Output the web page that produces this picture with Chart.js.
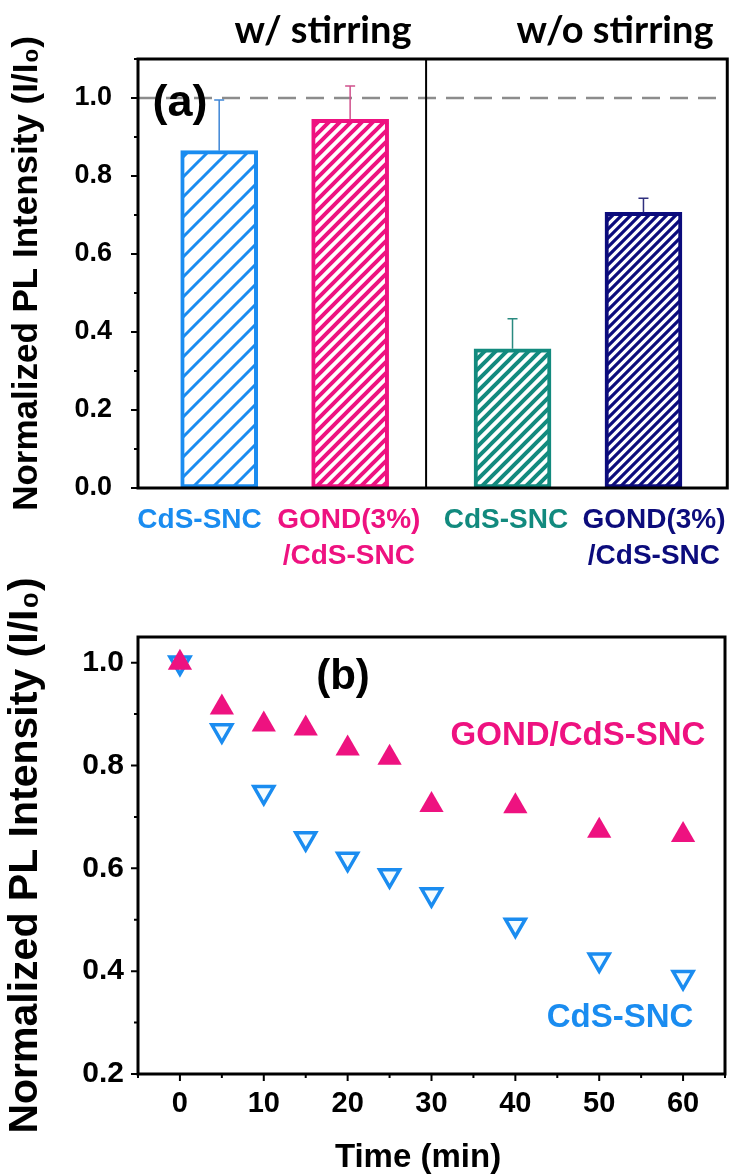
<!DOCTYPE html>
<html>
<head>
<meta charset="utf-8">
<script src="https://cdn.jsdelivr.net/npm/chart.js@4.4.1/dist/chart.umd.min.js"></script>
<style>
  body { margin: 0; background: #fff; }
  canvas { position: absolute; left: 0; }
  #panelA { top: 0; }
  #panelB { top: 560px; }
</style>
</head>
<body>
<canvas id="panelA" width="740" height="600"></canvas>
<canvas id="panelB" width="740" height="615"></canvas>
<script>
// (a) PL kept after the test, with and without stirring
const groupLabels = ['w/ stirring', 'w/o stirring'];
const sampleLabels = [['CdS-SNC'], ['GOND(3%)', '/CdS-SNC'], ['CdS-SNC'], ['GOND(3%)', '/CdS-SNC']];
const plRatio = [0.865, 0.945, 0.357, 0.707];
const plErrorUp = [0.13, 0.086, 0.077, 0.036];
const yTicksA = [0, 0.2, 0.4, 0.6, 0.8, 1.0];
const yMinorA = [0.1, 0.3, 0.5, 0.7, 0.9, 1.1];

// (b) PL decay with time
const seriesNames = ['GOND/CdS-SNC', 'CdS-SNC'];
const timeMin = [0, 5, 10, 15, 20, 25, 30, 40, 50, 60];
const plGond = [1.0, 0.913, 0.88, 0.872, 0.833, 0.815, 0.723, 0.721, 0.673, 0.665];
const plCds = [1.0, 0.868, 0.748, 0.658, 0.618, 0.586, 0.549, 0.49, 0.422, 0.388];
const timeTicks = [0, 10, 20, 30, 40, 50, 60];
const timeMinor = [-5, 5, 15, 25, 35, 45, 55, 65];
const yTicksB = [0.2, 0.4, 0.6, 0.8, 1.0];
const yMinorB = [0.3, 0.5, 0.7, 0.9];

// layout of panel (a): bar centres, label centres and the group divider on the x axis
const barX = [1, 2, 3.24, 4.24];
const labelX = [0.85, 1.99, 3.19, 4.32];
const splitX = 2.58;

const ARIAL = "Arial, 'Liberation Sans', sans-serif";
const barColors = ['#1a8cf0', '#ee1280', '#128a7e', '#0c0c7c'];
const errColors = ['#3f86d6', '#d0508c', '#2a8a80', '#30307e'];
const hatchGap = [20, 11, 11, 9];
const hatchWidth = [3, 4, 4, 3.2];
const PINK = '#ee1280';
const BLUE = '#1a8cf0';

// diagonal "/" hatch on white
function hatch(color, gap, width) {
    const c = document.createElement('canvas');
    c.width = gap;
    c.height = gap;
    const g = c.getContext('2d');
    g.fillStyle = '#fff';
    g.fillRect(0, 0, gap, gap);
    g.strokeStyle = color;
    g.lineWidth = width;
    g.beginPath();
    g.moveTo(0, gap); g.lineTo(gap, 0);
    g.moveTo(-gap / 2, gap / 2); g.lineTo(gap / 2, -gap / 2);
    g.moveTo(gap / 2, gap * 1.5); g.lineTo(gap * 1.5, gap / 2);
    g.stroke();
    return g.createPattern(c, 'repeat');
}

function boldFont(size, family) {
    return 'bold ' + size + 'px ' + (family || ARIAL);
}

// frame round the plot area
function drawFrame(ctx, a) {
    ctx.strokeStyle = '#000';
    ctx.lineWidth = 3;
    ctx.strokeRect(a.left, a.top, a.right - a.left, a.bottom - a.top);
}

// outward tick marks on the left or bottom side
function drawTickMarks(ctx, scale, a, values, len) {
    ctx.strokeStyle = '#000';
    ctx.lineWidth = 2;
    ctx.beginPath();
    values.forEach(v => {
        const p = scale.getPixelForValue(v);
        if (scale.isHorizontal()) {
            ctx.moveTo(p, a.bottom);
            ctx.lineTo(p, a.bottom + len);
        } else {
            ctx.moveTo(a.left - len, p);
            ctx.lineTo(a.left, p);
        }
    });
    ctx.stroke();
}

function drawText(ctx, text, x, y, font, color) {
    ctx.font = font;
    ctx.fillStyle = color;
    ctx.textAlign = 'center';
    ctx.textBaseline = 'alphabetic';
    ctx.fillText(text, x, y);
}

const panelAExtras = {
    id: 'panelAExtras',
    beforeDatasetsDraw(chart) {
        const { ctx, chartArea: a, scales: { x, y } } = chart;
        ctx.save();
        // reference level I/I0 = 1
        const y1 = y.getPixelForValue(1);
        ctx.strokeStyle = '#8c8c8c';
        ctx.lineWidth = 2.5;
        ctx.setLineDash([18, 10]);
        ctx.beginPath();
        ctx.moveTo(a.left, y1);
        ctx.lineTo(a.right, y1);
        ctx.stroke();
        ctx.setLineDash([]);
        // divider between the two groups
        const xs = x.getPixelForValue(splitX);
        ctx.strokeStyle = '#000';
        ctx.lineWidth = 2;
        ctx.beginPath();
        ctx.moveTo(xs, a.top);
        ctx.lineTo(xs, a.bottom);
        ctx.stroke();
        ctx.restore();
    },
    afterDatasetsDraw(chart) {
        const { ctx, scales: { x, y } } = chart;
        ctx.save();
        ctx.lineWidth = 1.5;
        plRatio.forEach((v, i) => {
            const px = x.getPixelForValue(barX[i]);
            const top = y.getPixelForValue(v);
            const end = y.getPixelForValue(v + plErrorUp[i]);
            ctx.strokeStyle = errColors[i];
            ctx.beginPath();
            ctx.moveTo(px, top);
            ctx.lineTo(px, end);
            ctx.moveTo(px - 5, end);
            ctx.lineTo(px + 5, end);
            ctx.stroke();
        });
        ctx.restore();
    },
    afterDraw(chart) {
        const { ctx, chartArea: a, scales: { y } } = chart;
        ctx.save();
        drawFrame(ctx, a);
        drawTickMarks(ctx, y, a, yTicksA, 7);
        drawTickMarks(ctx, y, a, yMinorA, 4);
        drawText(ctx, '(a)', 180, 116, boldFont(45), '#000');
        drawText(ctx, groupLabels[0], 323, 43, boldFont(38, 'Lato'), '#000');
        drawText(ctx, groupLabels[1], 615, 43, boldFont(38, 'Lato'), '#000');
        ctx.restore();
    }
};

const panelBExtras = {
    id: 'panelBExtras',
    afterDraw(chart) {
        const { ctx, chartArea: a, scales: { x, y } } = chart;
        ctx.save();
        drawFrame(ctx, a);
        drawTickMarks(ctx, y, a, yTicksB, 7);
        drawTickMarks(ctx, y, a, yMinorB, 4);
        drawTickMarks(ctx, x, a, timeTicks, 7);
        drawTickMarks(ctx, x, a, timeMinor, 4);
        drawText(ctx, '(b)', 343, 129, boldFont(42), '#000');
        drawText(ctx, seriesNames[0], 578, 185, boldFont(33), PINK);
        drawText(ctx, seriesNames[1], 620, 467, boldFont(33), BLUE);
        drawText(ctx, 'Time (min)', 418, 607, boldFont(33), '#000');
        ctx.restore();
    }
};

// Panel (a): hatched bars with upper error bars
new Chart(document.getElementById('panelA'), {
    type: 'bar',
    data: {
        datasets: [{
            data: plRatio.map((v, i) => ({ x: barX[i], y: v })),
            backgroundColor: barColors.map((c, i) => hatch(c, hatchGap[i], hatchWidth[i])),
            borderColor: barColors,
            borderWidth: 4,
            borderSkipped: false,
            barThickness: 77
        }]
    },
    options: {
        responsive: false,
        animation: false,
        layout: { padding: { top: 59, right: 4, left: 0, bottom: 0 } },
        plugins: { legend: { display: false }, tooltip: { enabled: false } },
        scales: {
            x: {
                type: 'linear',
                min: 0.38,
                max: 4.88,
                offset: false,
                grid: { display: false, drawTicks: false },
                border: { display: false },
                afterBuildTicks: s => { s.ticks = labelX.map(v => ({ value: v })); },
                afterFit: s => { s.height = 112; },
                ticks: {
                    autoSkip: false,
                    maxRotation: 0,
                    padding: 14,
                    callback: (v, i) => sampleLabels[i],
                    color: c => barColors[c.index],
                    font: { family: ARIAL, size: 28, weight: 'bold', lineHeight: 1.29 }
                }
            },
            y: {
                min: 0,
                max: 1.1,
                grid: { display: false, drawTicks: false },
                border: { display: false },
                afterBuildTicks: s => { s.ticks = yTicksA.map(v => ({ value: v })); },
                afterFit: s => { s.width = 138; },
                ticks: {
                    padding: 26,
                    color: '#000',
                    callback: v => v.toFixed(1),
                    font: { family: ARIAL, size: 27, weight: 'bold' }
                },
                title: {
                    display: true,
                    text: 'Normalized PL Intensity (I/I₀)',
                    color: '#000',
                    padding: { top: 6, bottom: 0 },
                    font: { family: ARIAL, size: 35, weight: 'bold', lineHeight: 1.2 }
                }
            }
        }
    },
    plugins: [panelAExtras]
});

// Panel (b): PL versus time
new Chart(document.getElementById('panelB'), {
    type: 'scatter',
    data: {
        datasets: [
            {
                label: seriesNames[0],
                data: timeMin.map((t, i) => ({ x: t, y: plGond[i] })),
                pointStyle: 'triangle',
                pointRadius: 14,
                pointBackgroundColor: PINK,
                pointBorderWidth: 0
            },
            {
                label: seriesNames[1],
                data: timeMin.map((t, i) => ({ x: t, y: plCds[i] })),
                pointStyle: 'triangle',
                pointRotation: 180,
                pointRadius: 11.5,
                pointBackgroundColor: '#f4fcff',
                pointBorderColor: BLUE,
                pointBorderWidth: 3.5
            }
        ]
    },
    options: {
        responsive: false,
        animation: false,
        layout: { padding: { top: 77, right: 4, left: 0, bottom: 0 } },
        plugins: { legend: { display: false }, tooltip: { enabled: false } },
        scales: {
            x: {
                type: 'linear',
                min: -5,
                max: 65,
                grid: { display: false, drawTicks: false },
                border: { display: false },
                afterBuildTicks: s => { s.ticks = timeTicks.map(v => ({ value: v })); },
                afterFit: s => { s.height = 101; },
                ticks: {
                    padding: 13,
                    color: '#000',
                    font: { family: ARIAL, size: 29, weight: 'bold' }
                }
            },
            y: {
                min: 0.2,
                max: 1.05,
                grid: { display: false, drawTicks: false },
                border: { display: false },
                afterBuildTicks: s => { s.ticks = yTicksB.map(v => ({ value: v })); },
                afterFit: s => { s.width = 138; },
                ticks: {
                    padding: 14,
                    color: '#000',
                    callback: v => v.toFixed(1),
                    font: { family: ARIAL, size: 30, weight: 'bold' }
                },
                title: {
                    display: true,
                    text: 'Normalized PL Intensity (I/I₀)',
                    color: '#000',
                    padding: { top: 1, bottom: 0 },
                    font: { family: ARIAL, size: 41, weight: 'bold', lineHeight: 1.2 }
                }
            }
        }
    },
    plugins: [panelBExtras]
});
</script>
</body>
</html>
